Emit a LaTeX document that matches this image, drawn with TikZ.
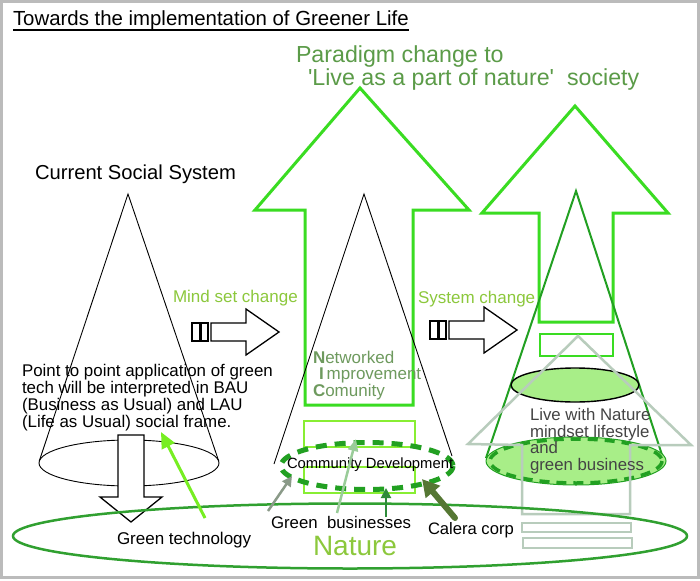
\documentclass[tikz,border=0pt]{standalone}
\usepackage{fontspec}
\setmainfont{Liberation Sans}
\usetikzlibrary{arrows.meta,calc}
\definecolor{framegray}{HTML}{BBBBBB}
\definecolor{paragreen}{HTML}{5B9B48}
\definecolor{brightgreen}{HTML}{3ADC22}
\definecolor{rectgreen}{HTML}{88EE33}
\definecolor{labelgreen}{HTML}{8CC83C}
\definecolor{conegreen}{HTML}{22A022}
\definecolor{naturegreen}{HTML}{30A030}
\definecolor{fillgreen}{HTML}{A8EE88}
\definecolor{ghostgray}{HTML}{B8CCBC}
\definecolor{nicgreen}{HTML}{6E9A5E}
\definecolor{livegray}{HTML}{444444}
\definecolor{techgreen}{HTML}{77EE22}
\definecolor{gbone}{HTML}{8A9A88}
\definecolor{gbtwo}{HTML}{9ACC99}
\definecolor{gbthree}{HTML}{2E8B3A}
\definecolor{caleragreen}{HTML}{557733}
\newcommand\myfs[1]{\fontsize{#1}{#1}\selectfont}
\begin{document}
\begin{tikzpicture}[x=1pt,y=-1pt,
  txt/.style={inner sep=0pt,outer sep=0pt,anchor=base west},
  bigarrow/.style={draw=brightgreen,line width=3pt,line join=miter},
  hollowarrow/.style={draw=black,line width=1.3pt,line join=miter},
  thincone/.style={draw=black,line width=0.9pt},
  smallrect/.style={draw=rectgreen,line width=2pt}]
\useasboundingbox (0,0) rectangle (700,580);
\fill[white] (0,0) rectangle (700,580);
\draw[framegray,line width=3pt] (1.5,1.5) rectangle (698.5,577.5);

% title
\node[txt,font=\myfs{20.4}] (title) at (13,26) {Towards the implementation of Greener Life};
\draw[line width=1.3pt] ($(title.base west)+(0,4)$) -- ($(title.base east)+(0,4)$);

% paradigm text
\node[txt,font=\myfs{23.2},text=paragreen] (par1) at (296,63) {Paradigm change to};
\node[txt,font=\myfs{23.2},text=paragreen] (par2) at (308,86) {\textquotesingle Live as a part of nature\textquotesingle\ \ society};

% big green arrows
\draw[bigarrow] (360,88) -- (469,210) -- (413,210) -- (413,405) -- (305,405) -- (305,210) -- (255,210) -- cycle;
\draw[bigarrow] (575,106) -- (668,213) -- (613,213) -- (613,322) -- (539,322) -- (539,213) -- (482,213) -- cycle;
\draw[draw=brightgreen,line width=2.5pt] (540,334) rectangle (613,356);

% current social system
\node[txt,font=\myfs{20.2}] (css) at (35,179) {Current Social System};
\draw[thincone] (39.3,461) -- (128,194) -- (218.7,461);
\draw[thincone] (129,463) ellipse [x radius=90,y radius=23];

% middle cone
\draw[thincone] (274,464) -- (364,194) -- (452,456);

% right cone
\draw[conegreen,line width=2pt] (486,458) -- (576,191) -- (663,458);
\draw[fill=fillgreen,draw=black,line width=1.4pt] (575,385) ellipse [x radius=64,y radius=17];
\draw[fill=fillgreen,draw=conegreen,line width=1pt] (576,461) ellipse [x radius=90,y radius=24];
\draw[conegreen,line width=3.5pt,dash pattern=on 10pt off 7pt] (576,461) ellipse [x radius=86,y radius=22];

% ghost gray arrow
\draw[ghostgray,line width=2.5pt,line join=miter] (578,336) -- (691,445) -- (630,445) -- (630,514) -- (522,514) -- (522,445) -- (468,444) -- cycle;
\draw[ghostgray,line width=2.5pt] (522,523) rectangle (631,532);
\draw[ghostgray,line width=2.5pt] (523,538) rectangle (632,548);

% live with nature text
\node[txt,font=\myfs{16.8},text=livegray] (live1) at (530,420) {Live with Nature};
\node[txt,font=\myfs{16.8},text=livegray] (live2) at (530,437) {mindset lifestyle};
\node[txt,font=\myfs{16.8},text=livegray] (live3) at (530,453) {and};
\node[txt,font=\myfs{16.8},text=livegray] (live4) at (530,470) {green business};

% hollow horizontal arrows
\draw[hollowarrow] (192,323) rectangle (200,341);
\draw[hollowarrow] (201,323) rectangle (208,341);
\draw[hollowarrow] (211,323) -- (246,323) -- (246,309) -- (279,332) -- (246,355) -- (246,341) -- (211,341) -- cycle;
\draw[hollowarrow] (430,321) rectangle (438,339);
\draw[hollowarrow] (439,321) rectangle (446,339);
\draw[hollowarrow] (449,321) -- (484,321) -- (484,307) -- (517,330) -- (484,353) -- (484,339) -- (449,339) -- cycle;
\node[txt,font=\myfs{17},text=labelgreen] (mind) at (173,302) {Mind set change};
\node[txt,font=\myfs{17},text=labelgreen] (sys) at (418,303) {System change};

% NIC
\node[txt,font=\myfs{17},text=nicgreen] (nicN) at (313,363) {{\bfseries N}etworked};
\node[txt,font=\myfs{17},text=nicgreen] (nicI) at (319,379) {{\bfseries I}\hspace{3pt}mprovement};
\node[txt,font=\myfs{17},text=nicgreen] (nicC) at (313,396) {{\bfseries C}omunity};

% middle rects and community development
\draw[smallrect] (304,421) rectangle (415,447);
\draw[smallrect] (304,467) rectangle (415,493);
\draw[conegreen,line width=5pt,dash pattern=on 11pt off 8pt] (367,466) ellipse [x radius=86,y radius=23.5];
\node[txt,font=\myfs{14.8}] (comm) at (287,468) {Community Development};

% left text
\node[txt,font=\myfs{16.9}] (pt1) at (22,376) {Point to point application of green};
\node[txt,font=\myfs{16.9}] (pt2) at (22,393) {tech will be interpreted in BAU};
\node[txt,font=\myfs{16.9}] (pt3) at (22,410) {(Business as Usual) and LAU};
\node[txt,font=\myfs{16.9}] (pt4) at (22,427) {(Life as Usual) social frame.};

% down hollow arrow
\draw[hollowarrow,fill=white] (118,435) -- (144,435) -- (144,497) -- (162,497) -- (131,522) -- (100,497) -- (118,497) -- cycle;

% nature ellipse
\draw[naturegreen,line width=2.5pt] (350,536) ellipse [x radius=337,y radius=32.5];
\node[txt,font=\myfs{28},text=labelgreen] (nature) at (313,555) {Nature};

% bottom labels
\node[txt,font=\myfs{17}] (gtech) at (117,544) {Green technology};
\node[txt,font=\myfs{16.8}] (gbus) at (271,528) {Green\ \ businesses};
\node[txt,font=\myfs{16.6}] (calera) at (428,534) {Calera corp};

% label arrows
\coordinate (gtTail) at (205,518);
\coordinate (gtTip) at (161,432);
\draw[techgreen,line width=3pt,-{Triangle[length=16pt,width=14pt]}] (gtTail) -- (gtTip);
\coordinate (gbTailA) at (268,511);
\coordinate (gbTipA) at (292,476);
\draw[gbone,line width=2.5pt,-{Triangle[length=10pt,width=10pt]}] (gbTailA) -- (gbTipA);
\coordinate (gbTailB) at (337,513);
\coordinate (gbTipB) at (356,439);
\draw[gbtwo,line width=2.5pt,-{Triangle[length=12pt,width=10pt]}] (gbTailB) -- (gbTipB);
\coordinate (gbTailC) at (386,517);
\coordinate (gbTipC) at (386,488);
\draw[gbthree,line width=2pt,-{Triangle[length=10pt,width=10pt]}] (gbTailC) -- (gbTipC);
\coordinate (calTail) at (455,518);
\coordinate (calTip) at (422,479);
\draw[caleragreen,line width=6pt,line cap=round,-{Triangle[length=17pt,width=18pt]}] (calTail) -- (calTip);
\end{tikzpicture}
\end{document}
